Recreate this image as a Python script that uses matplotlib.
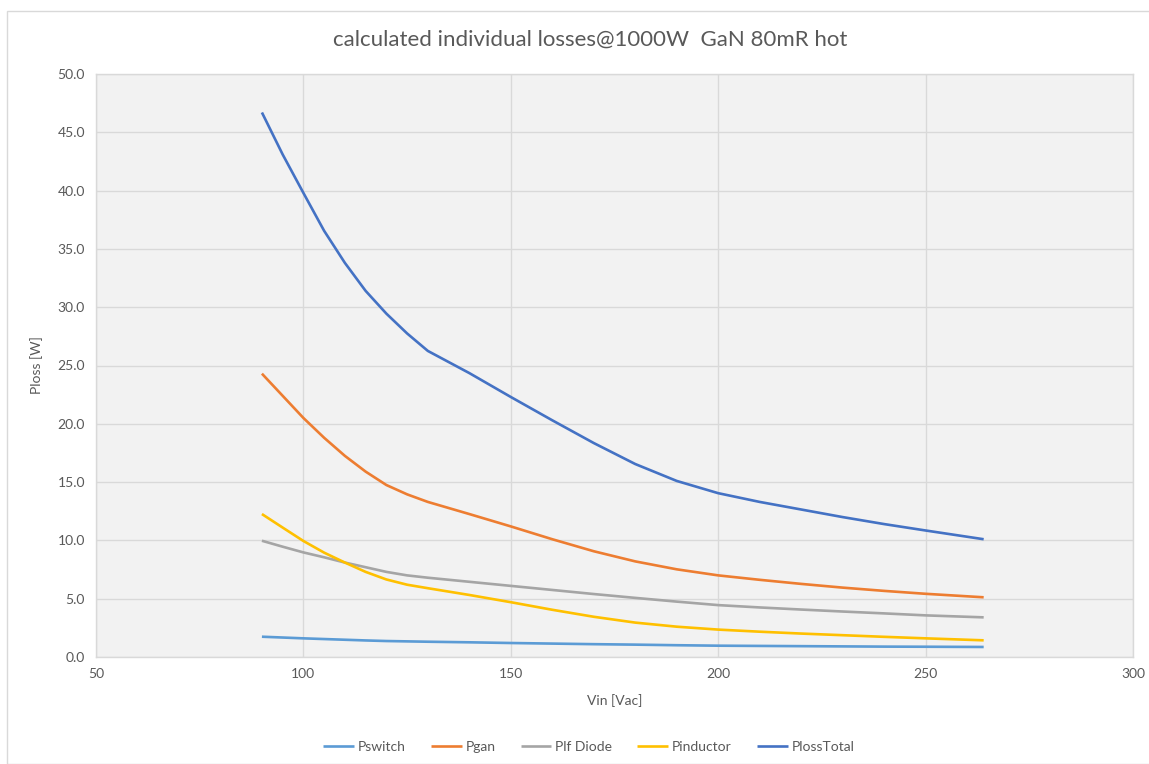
import matplotlib
matplotlib.use("Agg")
import matplotlib.pyplot as plt
from matplotlib.patches import Rectangle

vin = [90, 95, 100, 105, 110, 115, 120, 125, 130, 140, 150, 160, 170, 180, 190,
       200, 210, 220, 230, 240, 250, 264]
pswitch = [1.74, 1.67, 1.6, 1.54, 1.48, 1.42, 1.37, 1.34, 1.31, 1.26, 1.2, 1.15, 1.1,
           1.06, 1.01, 0.97, 0.95, 0.93, 0.91, 0.89, 0.88, 0.86]
pgan = [24.3, 22.4, 20.5, 18.8, 17.25, 15.9, 14.75, 13.95, 13.3, 12.26, 11.2, 10.1, 9.07,
        8.2, 7.52, 7.0, 6.62, 6.27, 5.95, 5.67, 5.42, 5.12]
plf_diode = [9.97, 9.46, 8.97, 8.55, 8.1, 7.7, 7.3, 7.0, 6.8, 6.45, 6.1, 5.75, 5.4,
             5.07, 4.75, 4.45, 4.25, 4.07, 3.9, 3.74, 3.57, 3.4]
pinductor = [12.26, 11.1, 9.95, 8.95, 8.1, 7.3, 6.65, 6.2, 5.9, 5.32, 4.7, 4.05, 3.45,
             2.95, 2.6, 2.35, 2.17, 2.01, 1.87, 1.73, 1.6, 1.43]
ploss_total = [46.7, 43.1, 39.8, 36.55, 33.8, 31.4, 29.45, 27.75, 26.25, 24.35, 22.3, 20.3,
               18.35, 16.55, 15.1, 14.05, 13.3, 12.65, 12.0, 11.4, 10.85, 10.1]

series = [
    ("Pswitch", pswitch, "#5B9BD5"),
    ("Pgan", pgan, "#ED7D31"),
    ("Plf Diode", plf_diode, "#A5A5A5"),
    ("Pinductor", pinductor, "#FFC000"),
    ("PlossTotal", ploss_total, "#4472C4"),
]

plt.rcParams['font.family'] = ['Lato', 'DejaVu Sans']
W, H = 1149, 764
fig = plt.figure(figsize=(W / 100, H / 100), dpi=100)
fig.patch.set_facecolor("white")

# chart border
fig.patches.append(Rectangle((7 / W, 0), 1.2, (H - 11) / H, transform=fig.transFigure,
                             fill=False, edgecolor="#D9D9D9", linewidth=1.0))

left, right, top, bottom = 96, 1133, 74, 657
ax = fig.add_axes([left / W, 1 - bottom / H, (right - left) / W, (bottom - top) / H])
ax.set_facecolor("#F2F2F2")
for s in ax.spines.values():
    s.set_color("#D9D9D9")
    s.set_linewidth(1.0)

for name, vals, col in series:
    ax.plot(vin, vals, color=col, linewidth=1.9, label=name,
            solid_capstyle="butt", solid_joinstyle="round")

ax.set_xlim(50, 300)
ax.set_ylim(0, 50)
ax.set_xticks(range(50, 301, 50))
ax.set_yticks(range(0, 51, 5))
ax.set_yticklabels([f"{v:.1f}" for v in range(0, 51, 5)])
ax.grid(True, color="#D9D9D9", linewidth=1.0)
ax.set_axisbelow(True)
ax.tick_params(length=0, labelsize=10, colors="#595959", pad=8)

ax.set_xlabel("Vin [Vac]", fontsize=10, color="#595959", labelpad=10)
ax.set_ylabel("Ploss [W]", fontsize=10, color="#595959", labelpad=10)
fig.text(590 / W, 1 - 40 / H, "calculated individual losses@1000W  GaN 80mR hot",
         ha="center", va="center", fontsize=16, color="#595959")

leg = fig.legend(loc="center", bbox_to_anchor=(589 / W, 1 - 747 / H), ncol=5, frameon=False,
                 fontsize=10, handlelength=2.2, columnspacing=1.8, handletextpad=0.3)
for t in leg.get_texts():
    t.set_color("#595959")

fig.savefig("out.png", dpi=100, facecolor="white")
